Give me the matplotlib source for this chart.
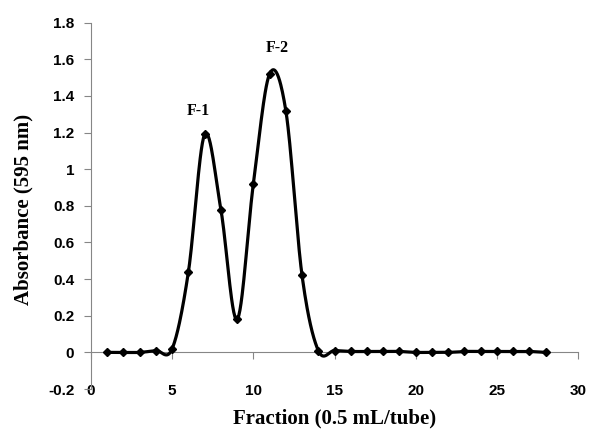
import numpy as np
import matplotlib
matplotlib.use("Agg")
import matplotlib.pyplot as plt

fractions = list(range(1, 29))
absorbance = [0.0, 0.0, 0.0, 0.01, 0.02, 0.44, 1.19, 0.78, 0.18, 0.92, 1.52, 1.32,
              0.42, 0.01, 0.01, 0.005, 0.005, 0.005, 0.005, 0.0, 0.0, 0.0, 0.005,
              0.005, 0.005, 0.005, 0.005, 0.0]
xticks = [0, 5, 10, 15, 20, 25, 30]
yticks = [-0.2, 0, 0.2, 0.4, 0.6, 0.8, 1.0, 1.2, 1.4, 1.6, 1.8]
ytick_labels = ["-0.2", "0", "0.2", "0.4", "0.6", "0.8", "1", "1.2", "1.4", "1.6", "1.8"]
peak_labels = ["F-1", "F-2"]
peak_pos = [(6.6, 1.32), (11.45, 1.66)]


def smooth(x, y, n=30):
    # Excel-style smoothing (Catmull-Rom / Bezier with 1/6 tension)
    x = np.asarray(x, float); y = np.asarray(y, float)
    P = np.column_stack([x, y])
    out = []
    for i in range(len(P) - 1):
        p0 = P[i - 1] if i > 0 else P[i]
        p1 = P[i]; p2 = P[i + 1]
        p3 = P[i + 2] if i + 2 < len(P) else P[i + 1]
        c1 = p1 + (p2 - p0) / 6.0
        c2 = p2 - (p3 - p1) / 6.0
        t = np.linspace(0, 1, n)[:, None]
        seg = ((1 - t) ** 3) * p1 + 3 * ((1 - t) ** 2) * t * c1 + 3 * (1 - t) * t ** 2 * c2 + t ** 3 * p2
        out.append(seg if i == 0 else seg[1:])
    s = np.vstack(out)
    return s[:, 0], s[:, 1]


fig = plt.figure(figsize=(5.93, 4.30), dpi=100)
ax = fig.add_axes([0.1535, 0.0953, 0.8212, 0.852])

sx, sy = smooth(fractions, absorbance)
ax.plot(sx, sy, color="black", lw=2.3, zorder=3, solid_capstyle="round")
ax.plot(fractions, absorbance, linestyle="none", marker="D", color="black", ms=4.5, zorder=4)

ax.set_xlim(0, 30)
ax.set_ylim(-0.2, 1.8)
ax.set_xticks(xticks)
ax.set_yticks(yticks)
ax.set_yticklabels(ytick_labels)

grey = "#868686"
for s in ["top", "right"]:
    ax.spines[s].set_visible(False)
ax.spines["bottom"].set_position(("data", 0))
ax.spines["bottom"].set_color(grey)
ax.spines["left"].set_color(grey)
ax.tick_params(axis="x", direction="out", length=5, color=grey, pad=18)
ax.tick_params(axis="y", direction="out", length=5, color=grey, pad=7)
for lab in ax.get_xticklabels() + ax.get_yticklabels():
    lab.set_fontfamily("Liberation Sans")
    lab.set_fontweight("bold")
    lab.set_fontsize(11)

ax.set_xlabel("Fraction (0.5 mL/tube)", fontfamily="Liberation Serif", fontweight="bold", fontsize=15)
ax.set_ylabel("Absorbance (595 nm)", fontfamily="Liberation Serif", fontweight="bold", fontsize=15)
ax.xaxis.set_label_coords(0.5, -0.052)
ax.yaxis.set_label_coords(-0.119, 0.49)

for lab, (px, py) in zip(peak_labels, peak_pos):
    ax.text(px, py, lab, ha="center", va="center", fontfamily="Liberation Serif",
            fontweight="bold", fontsize=11.5)

fig.savefig("out.png", dpi=100)
